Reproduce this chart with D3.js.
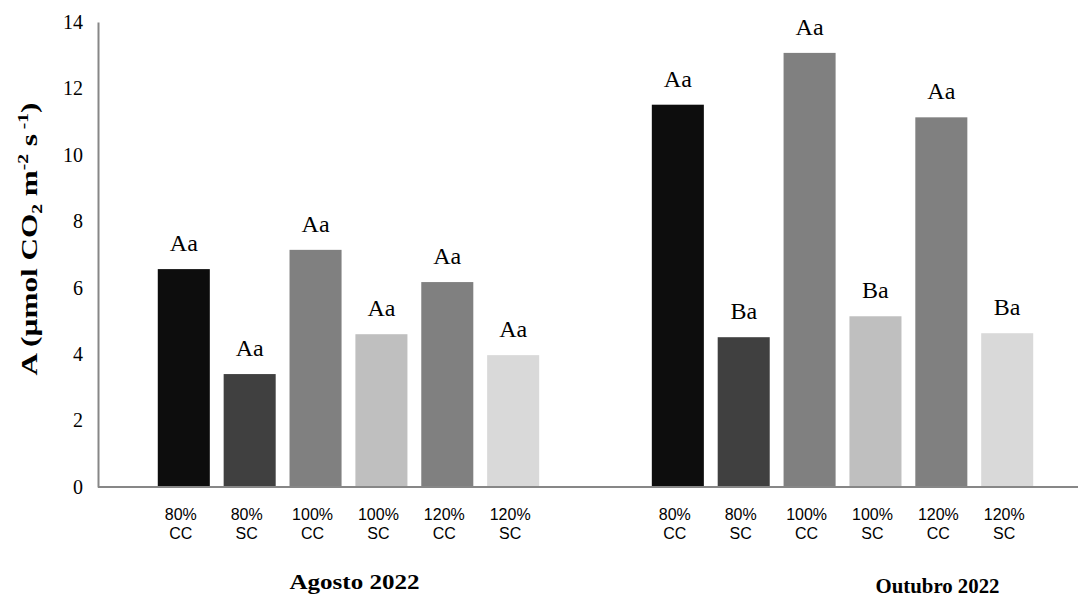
<!DOCTYPE html>
<html>
<head>
<meta charset="utf-8">
<script src="https://cdn.jsdelivr.net/npm/d3@7"></script>
<style>
  body { margin: 0; background: #fff; }
  svg { display: block; }
</style>
</head>
<body>
<div id="chart"></div>
<script>
// data
const groups = ["Agosto 2022", "Outubro 2022"];
const treatments = ["80% CC", "80% SC", "100% CC", "100% SC", "120% CC", "120% SC"];
const agostoValues = [6.56, 3.40, 7.14, 4.60, 6.17, 3.97];
const outubroValues = [11.51, 4.51, 13.07, 5.14, 11.13, 4.63];
const agostoLetters = ["Aa", "Aa", "Aa", "Aa", "Aa", "Aa"];
const outubroLetters = ["Aa", "Ba", "Aa", "Ba", "Aa", "Ba"];
const yTicks = [0, 2, 4, 6, 8, 10, 12, 14];
const barColors = ["#0d0d0d", "#404040", "#808080", "#bfbfbf", "#808080", "#d9d9d9"];

let width = 1078;
let height = 599;

let rows = [];
groups.forEach((g, gi) => {
  let vals = gi === 0 ? agostoValues : outubroValues;
  let lets = gi === 0 ? agostoLetters : outubroLetters;
  treatments.forEach((t, ti) => {
    rows.push({ group: g, treatment: t, value: vals[ti], letter: lets[ti], color: barColors[ti] });
  });
});

const svg = d3.select("#chart").append("svg")
  .attr("width", width)
  .attr("height", height);

let y = d3.scaleLinear()
  .domain([0, 14])
  .range([487, 22]);

let x0 = d3.scaleBand()
  .domain(groups)
  .range([98, 1093])
  .paddingInner(0.2)
  .paddingOuter(0.107);

let x1 = d3.scaleBand()
  .domain(treatments)
  .range([0, x0.bandwidth()])
  .paddingInner(0.21)
  .paddingOuter(0.105);

// bars
svg.append("g")
  .selectAll("rect")
  .data(rows)
  .join("rect")
  .attr("x", d => x0(d.group) + x1(d.treatment))
  .attr("y", d => y(d.value))
  .attr("width", x1.bandwidth())
  .attr("height", d => y(0) - y(d.value))
  .attr("fill", d => d.color);

// letters above bars
svg.append("g")
  .attr("font-family", "'Liberation Serif', 'Times New Roman', serif")
  .attr("font-size", 24)
  .attr("text-anchor", "middle")
  .selectAll("text")
  .data(rows)
  .join("text")
  .attr("x", d => x0(d.group) + x1(d.treatment) + x1.bandwidth() / 2)
  .attr("y", d => y(d.value) - 18)
  .text(d => d.letter);

// y axis, no tick marks
const yAxis = svg.append("g")
  .attr("transform", "translate(98,0)")
  .call(d3.axisLeft(y).tickValues(yTicks).tickSize(0).tickPadding(15));
yAxis.select(".domain").attr("stroke", "#878787").attr("stroke-width", 2);
yAxis.selectAll("text")
  .attr("font-family", "'Liberation Serif', 'Times New Roman', serif")
  .attr("font-size", 20)
  .attr("fill", "#000");

// baseline
svg.append("line")
  .attr("x1", 98)
  .attr("x2", width)
  .attr("y1", y(0))
  .attr("y2", y(0))
  .attr("stroke", "#878787")
  .attr("stroke-width", 2);

// treatment labels, two lines each
const catLabel = svg.append("g")
  .attr("font-family", "'Liberation Sans', Arial, sans-serif")
  .attr("font-size", 16)
  .attr("text-anchor", "middle")
  .selectAll("text")
  .data(rows)
  .join("text")
  .attr("transform", d => `translate(${x0(d.group) + x1(d.treatment) + x1.bandwidth() / 2 - 3},520)`);

catLabel.append("tspan")
  .attr("x", 0)
  .attr("y", 0)
  .text(d => d.treatment.split(" ")[0]);
catLabel.append("tspan")
  .attr("x", 0)
  .attr("y", 19)
  .text(d => d.treatment.split(" ")[1]);

// group labels (stretched wider in the original, Outubro sits off-centre)
const groupShift = [6, 95];
svg.append("g")
  .attr("font-family", "'Liberation Serif', 'Times New Roman', serif")
  .attr("font-size", 22)
  .attr("font-weight", "bold")
  .attr("text-anchor", "middle")
  .selectAll("text")
  .data(groups)
  .join("text")
  .attr("x", (d, i) => x0(d) + x0.bandwidth() / 2 + groupShift[i])
  .attr("y", (d, i) => i === 0 ? 589 : 593)
  .attr("textLength", (d, i) => i === 0 ? 130 : 124)
  .attr("lengthAdjust", "spacingAndGlyphs")
  .text(d => d);

// y axis title
const title = svg.append("text")
  .attr("transform", "translate(37,239) rotate(-90) scale(1.3,1)")
  .attr("font-family", "'Liberation Serif', 'Times New Roman', serif")
  .attr("font-size", 24)
  .attr("font-weight", "bold")
  .attr("text-anchor", "middle");

title.append("tspan").text("A (µmol CO");
title.append("tspan").attr("font-size", 15).attr("dy", 5).text("2");
title.append("tspan").attr("dy", -5).text(" m");
title.append("tspan").attr("font-size", 15).attr("dy", -9).text("-2");
title.append("tspan").attr("dy", 9).text(" s");
title.append("tspan").attr("font-size", 15).attr("dy", -9).text(" -1");
title.append("tspan").attr("dy", 9).text(")");
</script>
</body>
</html>
